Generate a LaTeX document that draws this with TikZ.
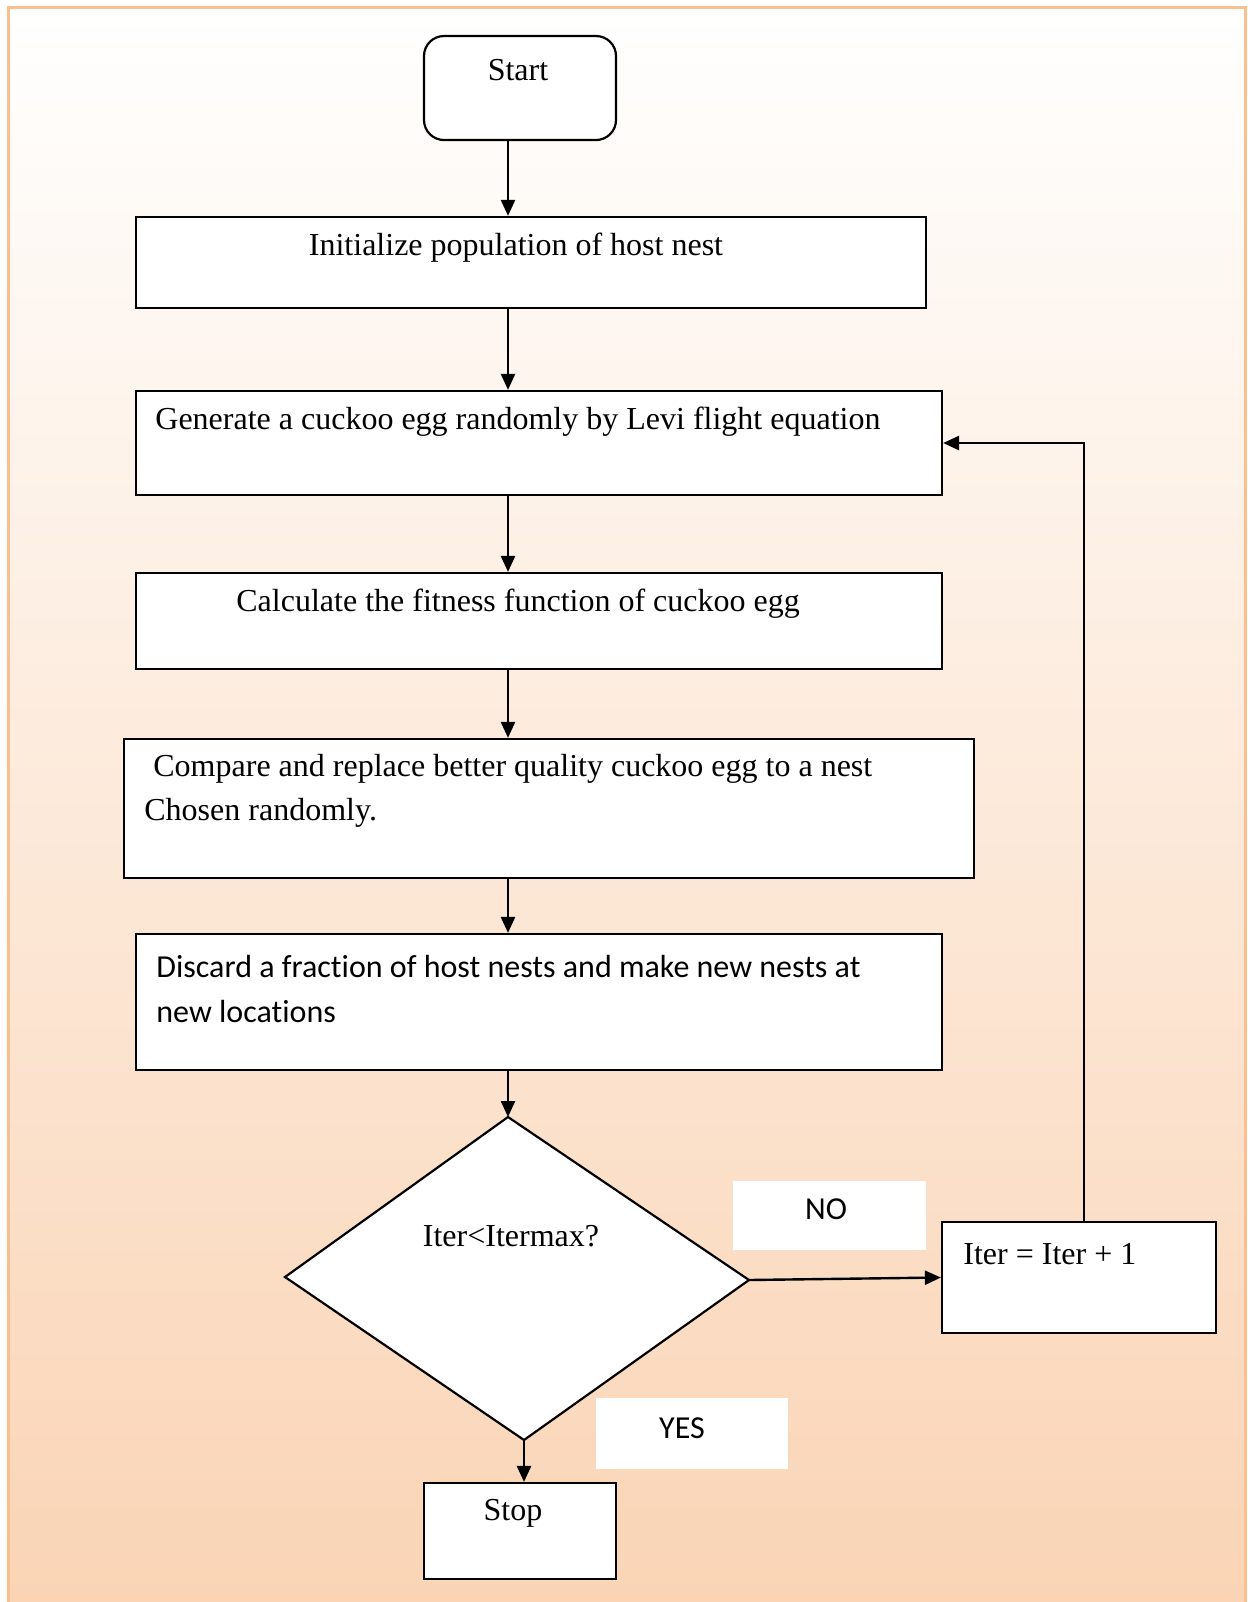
\documentclass[tikz,border=0pt]{standalone}
\usepackage{fontspec}
\setmainfont{Liberation Serif}
\newfontfamily\calibri[Ligatures=NoCommon]{Carlito}
\usetikzlibrary{arrows.meta}
\definecolor{peach}{RGB}{250,212,181}
\definecolor{rimorange}{RGB}{251,190,141}

\begin{document}
\begin{tikzpicture}[x=0.5pt, y=-0.5pt,
  box/.style={draw, fill=white, line width=1.1pt, inner sep=0pt},
  txt/.style={inner sep=0pt, font=\fontsize{16}{20}\selectfont},
  sans/.style={inner sep=0pt, font=\calibri\fontsize{16}{22}\selectfont},
  tag/.style={fill=white, inner sep=0pt},
  flow/.style={line width=1.2pt, -{Triangle[length=8pt, width=7pt]}}]

\useasboundingbox (0,0) rectangle (1248,1602);

% Page background with the orange rim
\fill[white] (0,0) rectangle (1248,1602);
\shade[top color=white, bottom color=peach] (8,7) rectangle (1245,1602);
\draw[rimorange, line width=1.5pt] (8,1602) -- (8,7) -- (1245,7) -- (1245,1602);

% Process boxes
\node[box, rounded corners=10pt, minimum width=96pt, minimum height=52pt] (start) at (520,88) {};
\node[box, minimum width=395pt, minimum height=45.5pt] (init) at (531,262.5) {};
\node[box, minimum width=403pt, minimum height=52pt] (gen) at (539,443) {};
\node[box, minimum width=403pt, minimum height=48pt] (calc) at (539,621) {};
\node[box, minimum width=425pt, minimum height=69.5pt] (comp) at (549,808.5) {};
\node[box, minimum width=403pt, minimum height=68pt] (disc) at (539,1002) {};
\node[box, minimum width=137pt, minimum height=55.5pt] (inc) at (1079,1277.5) {};
\node[box, minimum width=96pt, minimum height=48pt] (stop) at (520,1531) {};

% White label patches
\node[tag, minimum width=96.5pt, minimum height=34.5pt] (no) at (829.5,1215.5) {};
\node[tag, minimum width=96pt, minimum height=35.5pt] (yes) at (692,1433.5) {};

% Decision diamond
\coordinate (dW) at (285,1277);
\coordinate (dN) at (508,1117);
\coordinate (dE) at (749,1280);
\coordinate (dS) at (524,1440);
\draw[fill=white, line width=1.1pt] (dW) -- (dN) -- (dE) -- (dS) -- cycle;

% Texts
\node[txt] (tstart) at (518,70) {Start};
\node[txt] (tinit) at (516,248) {Initialize population of host nest};
\node[txt, anchor=west] (tgen) at (155,422) {Generate a cuckoo egg randomly by Levi flight equation};
\node[txt, anchor=west] (tcalc) at (236,604) {Calculate the fitness function of cuckoo egg};
\node[txt, anchor=west] (tcomp) at (153,769) {Compare and replace better quality cuckoo egg to a nest};
\node[txt, anchor=west] (tcomp2) at (144,813) {Chosen randomly.};
\node[sans, anchor=west] (tdisc) at (156,966) {Discard a fraction of host nests and make new nests at};
\node[sans, anchor=west] (tdisc2) at (156,1011) {new locations};
\node[txt] (tdec) at (511,1236) {Iter<Itermax?};
\node[txt, anchor=west] (tinc) at (963,1254) {Iter = Iter + 1};
\node[sans] (tno) at (826,1209) {NO};
\node[sans] (tyes) at (682,1428) {YES};
\node[txt] (tstop) at (513,1513) {Stop};

% Connectors
\draw[flow] (start.south -| dN) -- (init.north -| dN);
\draw[flow] (init.south -| dN) -- (gen.north -| dN);
\draw[flow] (gen.south -| dN) -- (calc.north -| dN);
\draw[flow] (calc.south -| dN) -- (comp.north -| dN);
\draw[flow] (comp.south -| dN) -- (disc.north -| dN);
\draw[flow] (disc.south -| dN) -- (dN);
\draw[flow] (dS) -- (stop.north -| dS);
\draw[flow] (dE) -- (inc.west);
\draw[flow] ([xshift=2.5pt]inc.north) |- (gen.east);

\end{tikzpicture}
\end{document}
